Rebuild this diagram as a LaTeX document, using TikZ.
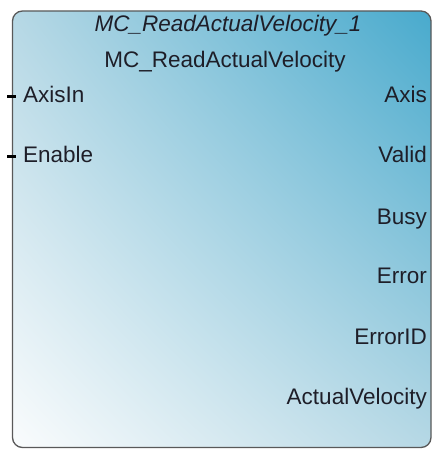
\documentclass[tikz,border=0pt]{standalone}
\usepackage{fontspec}
\setmainfont{Liberation Sans}
\usetikzlibrary{shadings}
\definecolor{ulc}{RGB}{182,216,229}
\definecolor{urc}{RGB}{72,170,205}
\definecolor{llc}{RGB}{250,252,253}
\definecolor{lrc}{RGB}{182,216,229}
\definecolor{txt}{RGB}{30,30,40}
\begin{document}
\begin{tikzpicture}[x=1pt,y=-1pt,
  lbl/.style={font=\fontsize{22.5}{22.5}\selectfont, text=txt, inner sep=0pt, anchor=base west},
  rlbl/.style={lbl, anchor=base east},
  pin/.style={draw=black, line width=2.5pt}]
\useasboundingbox (0,0) rectangle (432,449);
\begin{scope}
\clip (0,0) rectangle (432,449);
\shade[rounded corners=10pt, upper left=ulc, upper right=urc, lower left=llc, lower right=lrc]
  (12.5,11) rectangle (431,447.5);
\draw[rounded corners=10pt, draw=black!65, line width=1.3pt]
  (12.5,11) rectangle (431,447.5);
\end{scope}
\node[lbl, anchor=base, font=\fontsize{22.5}{22.5}\selectfont\itshape] (inst) at (228,32) {MC\_ReadActualVelocity\_1};
\node[lbl, anchor=base] (type) at (225,68) {MC\_ReadActualVelocity};
\node[lbl] (axisin) at (23,103) {AxisIn};
\node[lbl] (enable) at (23,163) {Enable};
\node[rlbl] (axis) at (427,103) {Axis};
\node[rlbl] (valid) at (427,163) {Valid};
\node[rlbl] (busy) at (427,224) {Busy};
\node[rlbl] (error) at (427,283) {Error};
\node[rlbl] (errorid) at (427,344) {ErrorID};
\node[rlbl] (actvel) at (427,404) {ActualVelocity};
\coordinate (p1) at (7,96.5);
\coordinate (p1e) at (16,96.5);
\coordinate (p2) at (7,156.5);
\coordinate (p2e) at (16,156.5);
\draw[pin] (p1) -- (p1e);
\draw[pin] (p2) -- (p2e);
\end{tikzpicture}
\end{document}
